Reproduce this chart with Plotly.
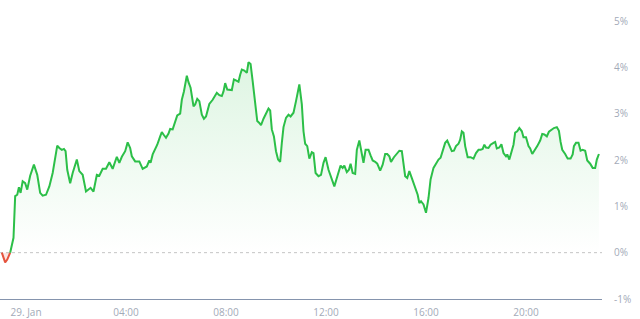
import pandas as pd
import plotly.graph_objects as go

# minutes relative to 29 Jan 00:00
minutes = [
    -58, -50, -45, -38, -30, -26, -21, -17, -13, -8, -2, 3, 10, 19, 27, 34, 40, 48, 56, 64,
    70, 75, 80, 86, 91, 95, 99, 106, 112, 122, 128, 136, 144, 150, 155, 162, 170, 176,
    184, 192, 200, 208, 218, 224, 230, 238, 244, 250, 254, 262, 272, 280, 290, 296, 299,
    304, 310, 315, 322, 326, 330, 336, 342, 346, 352, 358, 363, 370, 374, 379, 386, 390,
    395, 402, 406, 411, 416,
    422, 427, 432, 440, 448, 458, 464, 470, 474, 478, 483, 494, 499, 506, 510, 514, 518,
    524, 530, 534, 539, 544, 550, 555, 560, 564, 570, 576, 582, 586, 590, 595, 600, 605,
    610, 614, 618, 624, 630, 635, 642, 648, 656,
    662, 666, 670, 675, 680, 686, 690, 695, 702, 708, 714, 719, 726, 734, 740, 746, 752,
    755, 760, 764, 770, 775, 779, 784, 790, 794, 800, 806, 810, 815, 822, 827, 832, 838,
    843, 850, 856, 862, 867, 872, 876, 883, 890, 896,
    902, 906, 910, 915, 920, 926, 931, 936, 940, 944, 948, 954, 960, 966, 971, 978, 984,
    990, 995, 1000, 1006, 1011, 1016, 1022, 1027, 1032, 1038, 1042, 1046, 1050, 1054,
    1060, 1067, 1074, 1080, 1086, 1091, 1096, 1100, 1104, 1110, 1115, 1122, 1126, 1130,
    1136,
    1141, 1146, 1152, 1155, 1160, 1166, 1170, 1174, 1179, 1184, 1190, 1194, 1200, 1206,
    1210, 1215, 1222, 1227, 1234, 1239, 1244, 1250, 1255, 1262, 1267, 1274, 1279, 1283,
    1287, 1294, 1300, 1307, 1312, 1315, 1320, 1326, 1331, 1336, 1342, 1347, 1354, 1360,
    1366, 1370, 1375,
]

change_pct = [
    0.00, -0.21, -0.15, 0.00, 0.32, 1.22, 1.25, 1.41, 1.29, 1.54, 1.50, 1.36, 1.66, 1.90,
    1.68, 1.29, 1.23, 1.25, 1.43, 1.72,
    2.01, 2.31, 2.26, 2.22, 2.24, 2.19, 1.79, 1.50, 1.72, 2.01, 1.76, 1.68, 1.32, 1.36,
    1.40, 1.32, 1.68, 1.66,
    1.81, 1.81, 1.95, 1.81, 2.07, 1.94, 2.07, 2.19, 2.38, 2.26, 2.08, 1.97, 1.97, 1.81,
    1.86, 1.99, 1.94,
    2.12, 2.24, 2.33, 2.51, 2.60, 2.55, 2.48, 2.57, 2.67, 2.66, 2.84, 2.96, 3.00, 3.30,
    3.48, 3.82, 3.68,
    3.56, 3.16, 3.20, 3.32, 3.27,
    2.98, 2.89, 2.94, 3.21, 3.30, 3.45, 3.40, 3.38, 3.48, 3.66, 3.52, 3.51, 3.74, 3.71,
    3.69, 3.84, 3.95,
    3.93, 3.88, 4.11, 4.07, 3.70, 3.27, 2.84, 2.80, 2.75, 2.89, 3.02, 3.11, 3.07, 2.66,
    2.51, 2.19, 2.01,
    1.96, 2.37, 2.71, 2.91, 2.98, 2.94, 3.02, 3.27, 3.63,
    3.20, 2.62, 2.35, 2.30, 2.03, 2.17, 2.15, 1.72, 1.65, 1.68, 1.94, 2.06, 1.79, 1.60,
    1.43, 1.61, 1.79,
    1.88, 1.83, 1.88, 1.74, 1.79, 1.92, 1.72, 1.70, 2.22, 2.42, 2.12, 1.94, 2.22, 2.22,
    2.10, 1.99, 1.96,
    1.92, 1.77, 1.90, 2.13, 2.13, 2.08, 1.96, 2.06, 2.15, 2.20,
    2.19, 1.90, 1.65, 1.61, 1.76, 1.61, 1.47, 1.32, 1.25, 1.07, 1.11, 1.04, 0.86, 1.18,
    1.58, 1.83, 1.92,
    2.01, 2.05, 2.19, 2.37, 2.42, 2.30, 2.19, 2.20, 2.30, 2.35, 2.44, 2.62, 2.59, 2.30,
    2.06, 2.06, 2.03, 2.15, 2.22, 2.22, 2.24, 2.33, 2.27, 2.26, 2.33, 2.37, 2.39, 2.25,
    2.27,
    2.34, 2.15, 2.08, 2.12, 2.01, 2.22, 2.33, 2.59, 2.62, 2.69, 2.62, 2.49, 2.49, 2.30,
    2.25, 2.13, 2.22, 2.30, 2.42, 2.56, 2.55, 2.51, 2.61, 2.66, 2.69, 2.71, 2.63, 2.39,
    2.22, 2.13, 2.03, 2.03, 2.12, 2.30, 2.37, 2.37, 2.20, 2.22, 2.20, 1.99, 1.92, 1.83,
    1.83, 2.01, 2.13,
]

tick_hours = [0, 4, 8, 12, 16, 20]
tick_labels = ["29. Jan", "04:00", "08:00", "12:00", "16:00", "20:00"]
y_ticks = [-1, 0, 1, 2, 3, 4, 5]
y_tick_labels = ["-1%", "0%", "1%", "2%", "3%", "4%", "5%"]

base = pd.Timestamp("2024-01-29 00:00")
times = [base + pd.Timedelta(minutes=m) for m in minutes]

split = max(i for i, v in enumerate(change_pct) if v < 0) + 1

GREEN = "#2cbf48"
RED = "#e5533d"

fig = go.Figure()

fig.add_trace(go.Scatter(
    x=times[:split + 1], y=change_pct[:split + 1], mode="lines",
    line=dict(color=RED, width=2),
    fill="tozeroy", fillcolor="rgba(229,83,61,0.15)",
    hoverinfo="skip", showlegend=False,
))

fig.add_trace(go.Scatter(
    x=times[split:], y=change_pct[split:], mode="lines",
    line=dict(color=GREEN, width=2),
    fill="tozeroy",
    fillgradient=dict(
        type="vertical",
        colorscale=[[0, "rgba(44,191,72,0.0)"], [1, "rgba(44,191,72,0.16)"]],
        start=0, stop=4.2,
    ),
    hoverinfo="skip", showlegend=False,
))

fig.add_shape(
    type="line", xref="paper", yref="y", x0=0, x1=1, y0=0, y1=0,
    line=dict(color="#c4c4c4", width=1, dash="dot"), layer="below",
)

fig.update_layout(
    width=640, height=319,
    margin=dict(l=0, r=38, t=21, b=20),
    paper_bgcolor="white", plot_bgcolor="white",
    font=dict(family="Open Sans", size=10, color="#a3aab8"),
    xaxis=dict(
        type="date",
        range=[base + pd.Timedelta(minutes=-62.4), base + pd.Timedelta(minutes=1382.4)],
        tickvals=[base + pd.Timedelta(hours=h) for h in tick_hours],
        ticktext=tick_labels,
        showgrid=False, zeroline=False,
        showline=True, linecolor="#8594ad", linewidth=1,
        ticks="", ticklabelstandoff=4,
        tickfont=dict(size=10, color="#a3aab8"),
    ),
    yaxis=dict(
        range=[-1, 5], side="right",
        tickvals=y_ticks, ticktext=y_tick_labels,
        showgrid=False, zeroline=False, showline=False,
        ticks="", ticklabelstandoff=11,
        tickfont=dict(size=10, color="#a3aab8"),
    ),
)

fig.write_html("out.html")
